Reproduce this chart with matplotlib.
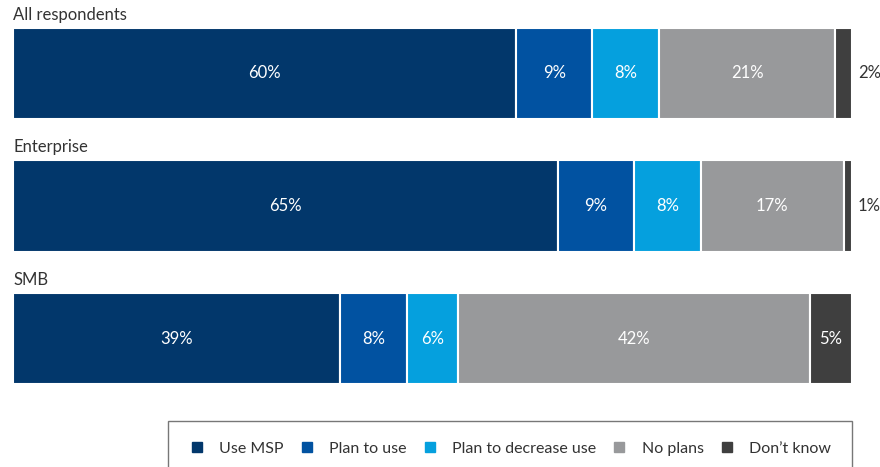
import matplotlib.pyplot as plt
from matplotlib.lines import Line2D

plt.rcParams['font.family'] = ['Lato', 'DejaVu Sans']

groups = ['All respondents', 'Enterprise', 'SMB']
answers = ['Use MSP', 'Plan to use', 'Plan to decrease use', 'No plans', 'Don\u2019t know']
colors = ['#02376b', '#0152a1', '#05a0de', '#98999b', '#3f3f3f']

use_msp = [60, 65, 39]
plan_to_use = [9, 9, 8]
plan_decrease = [8, 8, 6]
no_plans = [21, 17, 42]
dont_know = [2, 1, 5]

series = [use_msp, plan_to_use, plan_decrease, no_plans, dont_know]

fig = plt.figure(figsize=(8.8, 4.67), dpi=100)
# bars run from x=13px to x=852px, three rows ~133px apart
ax = fig.add_axes([13 / 880, 1 - 405 / 467, 839 / 880, 398 / 467])

bar_h = 0.686
ypos = list(range(len(groups)))
left = [0] * len(groups)
for vals, col, name in zip(series, colors, answers):
    ax.barh(ypos, vals, left=left, height=bar_h, color=col,
            edgecolor='white', linewidth=1.5, label=name)
    for y, l, v in zip(ypos, left, vals):
        if v < 3:
            ax.text(100.7, y, f'{v}%', ha='left', va='center',
                    fontsize=12, color='#333333', clip_on=False)
        else:
            ax.text(l + v / 2, y, f'{v}%', ha='center', va='center',
                    fontsize=12, color='white')
    left = [a + b for a, b in zip(left, vals)]

for y, g in zip(ypos, groups):
    ax.text(0, y - bar_h / 2 - 0.1, g, ha='left', va='center',
            fontsize=12, color='#333333')

ax.set_xlim(0, 100)
ax.set_ylim(2.5, -0.5)
ax.axis('off')

handles = [Line2D([], [], marker='s', linestyle='none', markersize=6.5,
                  markerfacecolor=c, markeredgecolor=c) for c in colors]
leg = fig.legend(handles, answers, loc='upper right', ncol=5,
                 bbox_to_anchor=(852 / 880, 1 - 421 / 467),
                 frameon=True, fancybox=False, fontsize=11.5,
                 borderpad=1.3, handlelength=1.0, handletextpad=0.9,
                 columnspacing=0.95, borderaxespad=0)
leg.get_frame().set_edgecolor('#555555')
leg.get_frame().set_linewidth(1.0)
for t in leg.get_texts():
    t.set_color('#333333')

fig.savefig('out.png', dpi=100)
